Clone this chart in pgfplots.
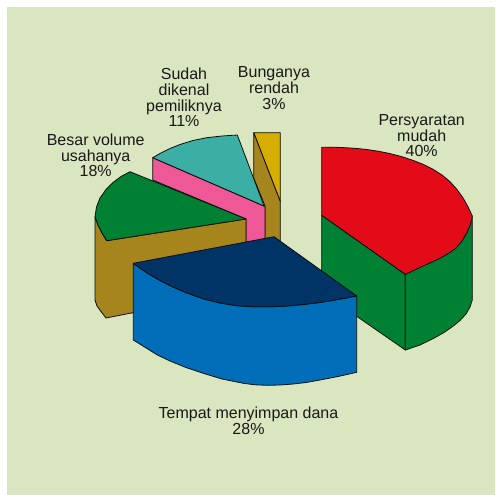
\documentclass[border=0pt]{standalone}
\usepackage{pgfplots}
\pgfplotsset{compat=1.18}
\usepackage{fontspec}
\setmainfont{Liberation Sans}
\definecolor{bgc}{HTML}{D9E6BF}
\definecolor{redc}{HTML}{E30B17}
\definecolor{greenc}{HTML}{008033}
\definecolor{brownc}{HTML}{A6851C}
\definecolor{pinkc}{HTML}{EE5896}
\definecolor{tealc}{HTML}{3CAFA5}
\definecolor{yellowc}{HTML}{D6AE00}
\definecolor{navyc}{HTML}{003366}
\definecolor{bluec}{HTML}{006DB8}
\tikzset{lab/.style={anchor=base,font=\fontsize{16}{16}\selectfont,text=black!90,inner sep=0pt}}
\begin{document}
\begin{tikzpicture}
\begin{axis}[
  width=495pt,height=495pt,scale only axis,
  xmin=0,xmax=495,ymin=0,ymax=495,y dir=reverse,
  hide axis,clip=true,
  every axis plot/.append style={line width=0.8pt,draw=black!95,line join=round},
]
% page and background
\addplot[fill=white,draw=none] coordinates {(0,0)(495,0)(495,495)(0,495)} --cycle;
\addplot[fill=bgc,draw=none] coordinates {(7,7)(495,7)(495,495)(7,495)} --cycle;
% yellow
\addplot[fill=yellowc] coordinates {(253.7,132.7)(280.3,132.7)(280.3,201.7)} --cycle;
% brown behind teal
\addplot[fill=brownc] coordinates {(253.7,132.7)(280.3,201.7)(280.3,242)(265,242)(265,206)(253.7,178)} --cycle;
% pink
\addplot[fill=pinkc] coordinates {(152.7,157.7)(265,206.5)(265,243)(246,245)(246,219)(152.7,180)} --cycle;
% teal
\addplot[fill=tealc] coordinates {(152.7,157.7)(160,153.5)(170,148.5)(180,144.5)(193,140.5)(206.7,137.7)(222,136)(237.3,135)(264,206)} --cycle;
% brown side of left slice
\addplot[fill=brownc] coordinates {(95,216.7)(98,225)(102,233)(106.7,240.7)(246,219)(246,250)(133,312.7)(106,318)(101,311.5)(97,306)(95,300)} --cycle;
% green left slice
\addplot[fill=greenc] coordinates {(130,171.7)(246,219)(106.7,240.7)(102,233)(98,225)(95,216.7)(96.5,207)(100,198)(106,189.5)(113,182.5)(121,176.5)} --cycle;
% right green, inner
\addplot[fill=greenc] coordinates {(321.7,215.3)(405.3,274.3)(405.3,350)(321.7,292)} --cycle;
% right green, outer
\addplot[fill=greenc] coordinates {(405.3,274.3)(423,266)(440,258.3)(449,253)(456,248)(462,241)(467,232.5)(470.5,224)(472.3,216)(472.3,300)(470,307)(466,314)(460,320.5)(453.3,326)(444,332.5)(433.3,338.5)(420,345)(405.3,350)} --cycle;
% red top
\addplot[fill=redc] coordinates {(321.7,147.3)(332,147.2)(343.3,147.6)(355,148.3)(366.7,149.5)(378,151.2)(390,153.6)(402,156.7)(413.3,160.5)(423.5,164.5)(433,169.3)(442,175)(450,181.7)(457,189.5)(463.3,198.3)(468,206.8)(472.3,216)(470.5,224)(467,232.5)(462,241)(456,248)(449,253)(440,258.3)(423,266)(405.3,274.3)(321.7,215.3)} --cycle;
% blue side
\addplot[fill=bluec] coordinates {(133.3,263.3)(146,272.2)(160,280.5)(173,287)(187,293)(203,298.7)(220,303)(237,305.7)(253,306.7)(270,306.8)(287,306)(303,304.5)(320,302.5)(338,299.5)(356.7,296)(356.7,372.3)(338,376.5)(320,380)(306,382.5)(293.3,384)(280,385)(266.7,385.3)(255,384.8)(243.3,383.3)(222,379)(203.3,373.3)(186,367.5)(170,361)(157,354.8)(146.7,348.3)(133.3,340)} --cycle;
% navy top
\addplot[fill=navyc] coordinates {(133.3,263.3)(274,236.7)(356.7,296)(338,299.5)(320,302.5)(303,304.5)(287,306)(270,306.8)(253,306.7)(237,305.7)(220,303)(203,298.7)(187,293)(173,287)(160,280.5)(146,272.2)} --cycle;
% labels
\node[lab] at (axis cs:248.5,418.3) {Tempat menyimpan dana};
\node[lab] at (axis cs:248.5,434.3) {28\%};
\node[lab] at (axis cs:421.7,125.7) {Persyaratan};
\node[lab] at (axis cs:421.7,141) {mudah};
\node[lab] at (axis cs:421.7,156.7) {40\%};
\node[lab] at (axis cs:184,79) {Sudah};
\node[lab] at (axis cs:184,95) {dikenal};
\node[lab] at (axis cs:184,111) {pemiliknya};
\node[lab] at (axis cs:184,126.7) {11\%};
\node[lab] at (axis cs:274,77.3) {Bunganya};
\node[lab] at (axis cs:274,93.3) {rendah};
\node[lab] at (axis cs:274,109.3) {3\%};
\node[lab] at (axis cs:95.7,145) {Besar volume};
\node[lab] at (axis cs:95.7,161) {usahanya};
\node[lab] at (axis cs:95.7,176.7) {18\%};
\end{axis}
\end{tikzpicture}
\end{document}
